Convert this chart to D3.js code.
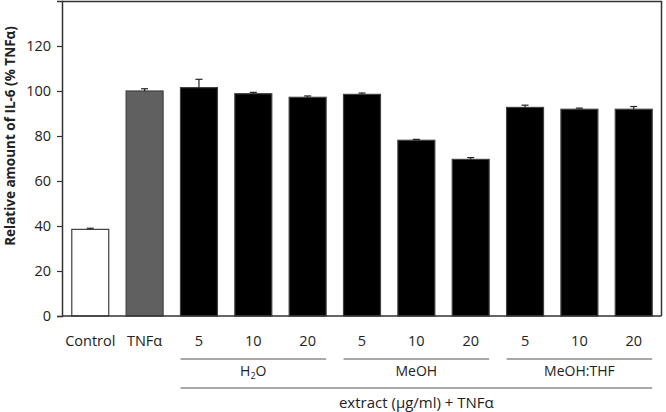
<!DOCTYPE html>
<html>
<head>
<meta charset="utf-8">
<script src="https://cdn.jsdelivr.net/npm/d3@7"></script>
<style>
  body { margin: 0; background: #fff; }
  text { font-family: "Open Sans", "Liberation Sans", sans-serif; fill: #222; }
</style>
</head>
<body>
<div id="chart"></div>
<script>
// data
var categories = ["Control", "TNFα", "H2O-5", "H2O-10", "H2O-20", "MeOH-5", "MeOH-10", "MeOH-20", "THF-5", "THF-10", "THF-20"];
var tickLabels = ["Control", "TNFα", "5", "10", "20", "5", "10", "20", "5", "10", "20"];
var values = [38.5, 100, 101.5, 98.8, 97.2, 98.5, 78.1, 69.6, 92.7, 91.9, 91.9];
var errors = [0.5, 1.0, 3.7, 0.6, 0.6, 0.6, 0.4, 0.8, 1.0, 0.5, 1.2];
var fills = ["#ffffff", "#606060", "#000", "#000", "#000", "#000", "#000", "#000", "#000", "#000", "#000"];
var groups = [
  { name: "H2O", from: 2, to: 4 },
  { name: "MeOH", from: 5, to: 7 },
  { name: "MeOH:THF", from: 8, to: 10 }
];
var yTicks = [0, 20, 40, 60, 80, 100, 120];

var svgWidth = 666, svgHeight = 412;
var margin = { top: 1, left: 62, right: 4, bottom: 96 };
var plotW = svgWidth - margin.left - margin.right;
var plotH = svgHeight - margin.top - margin.bottom;

var svg = d3.select("#chart").append("svg")
  .attr("width", svgWidth)
  .attr("height", svgHeight);

var g = svg.append("g")
  .attr("transform", `translate(${margin.left}, ${margin.top})`);

var x = d3.scaleBand()
  .domain(categories)
  .range([0, plotW])
  .paddingInner(0.32)
  .paddingOuter(0.18);

var y = d3.scaleLinear()
  .domain([0, 140])
  .range([plotH, 0]);

// frame (top + right)
g.append("path")
  .attr("d", `M0,0.5H${plotW - 0.5}V${plotH}`)
  .attr("fill", "none")
  .attr("stroke", "#333")
  .attr("stroke-width", 1.5);

// bars
g.selectAll("rect.bar")
  .data(values)
  .enter()
  .append("rect")
  .attr("class", "bar")
  .attr("x", (d, i) => x(categories[i]))
  .attr("y", d => y(d))
  .attr("width", x.bandwidth())
  .attr("height", d => plotH - y(d))
  .attr("fill", (d, i) => fills[i])
  .attr("stroke", "#404040")
  .attr("stroke-width", 1.2);

// error bars (upper only)
var eb = g.selectAll("g.err")
  .data(values)
  .enter()
  .append("g")
  .attr("class", "err")
  .attr("stroke", "#222")
  .attr("stroke-width", 1.2);

eb.append("line")
  .attr("x1", (d, i) => x(categories[i]) + x.bandwidth() / 2)
  .attr("x2", (d, i) => x(categories[i]) + x.bandwidth() / 2)
  .attr("y1", d => y(d))
  .attr("y2", (d, i) => y(d + errors[i]));

eb.append("line")
  .attr("x1", (d, i) => x(categories[i]) + x.bandwidth() / 2 - 3.5)
  .attr("x2", (d, i) => x(categories[i]) + x.bandwidth() / 2 + 3.5)
  .attr("y1", (d, i) => y(d + errors[i]))
  .attr("y2", (d, i) => y(d + errors[i]));

// y axis
var yAxis = g.append("g")
  .call(d3.axisLeft(y).tickValues(yTicks).tickSize(5).tickPadding(6));
yAxis.select(".domain").attr("stroke", "#333").attr("stroke-width", 1.5);
yAxis.selectAll(".tick line").attr("stroke", "#333").attr("stroke-width", 1.2);
yAxis.selectAll(".tick text")
  .attr("font-size", 14.5)
  .attr("font-family", "\"Open Sans\", sans-serif")
  .attr("fill", "#222");

// x axis line
g.append("line")
  .attr("x1", 0).attr("x2", plotW - 0.5)
  .attr("y1", plotH).attr("y2", plotH)
  .attr("stroke", "#333")
  .attr("stroke-width", 1.5);

// category labels
g.selectAll("text.cat")
  .data(tickLabels)
  .enter()
  .append("text")
  .attr("class", "cat")
  .attr("x", (d, i) => x(categories[i]) + x.bandwidth() / 2)
  .attr("y", plotH + 30)
  .attr("text-anchor", "middle")
  .attr("font-size", 14.5)
  .text(d => d);

// group brackets
var lineY1 = plotH + 43;
g.selectAll("line.grp")
  .data(groups)
  .enter()
  .append("line")
  .attr("x1", d => x(categories[d.from]))
  .attr("x2", d => x(categories[d.to]) + x.bandwidth())
  .attr("y1", lineY1).attr("y2", lineY1)
  .attr("stroke", "#555")
  .attr("stroke-width", 1);

var grpText = g.selectAll("text.grp")
  .data(groups)
  .enter()
  .append("text")
  .attr("class", "grp")
  .attr("x", d => (x(categories[d.from]) + x(categories[d.to]) + x.bandwidth()) / 2)
  .attr("y", lineY1 + 17)
  .attr("text-anchor", "middle")
  .attr("font-size", 14);

grpText.each(function(d) {
  var t = d3.select(this);
  if (d.name === "H2O") {
    t.append("tspan").text("H");
    t.append("tspan").text("2").attr("font-size", 9).attr("dy", 3);
    t.append("tspan").text("O").attr("dy", -3);
  } else {
    t.text(d.name);
  }
});

var lineY2 = plotH + 72;
g.append("line")
  .attr("x1", x(categories[2]))
  .attr("x2", x(categories[10]) + x.bandwidth())
  .attr("y1", lineY2).attr("y2", lineY2)
  .attr("stroke", "#555")
  .attr("stroke-width", 1);

g.append("text")
  .attr("x", (x(categories[2]) + x(categories[10]) + x.bandwidth()) / 2)
  .attr("y", lineY2 + 20)
  .attr("text-anchor", "middle")
  .attr("font-size", 15)
  .text("extract (µg/ml) + TNFα");

// y axis title
g.append("text")
  .attr("transform", "rotate(-90)")
  .attr("x", -135)
  .attr("y", -47)
  .attr("text-anchor", "middle")
  .attr("font-size", 13.5)
  .attr("font-weight", "bold")
  .text("Relative amount of IL-6 (% TNFα)");
</script>
</body>
</html>
